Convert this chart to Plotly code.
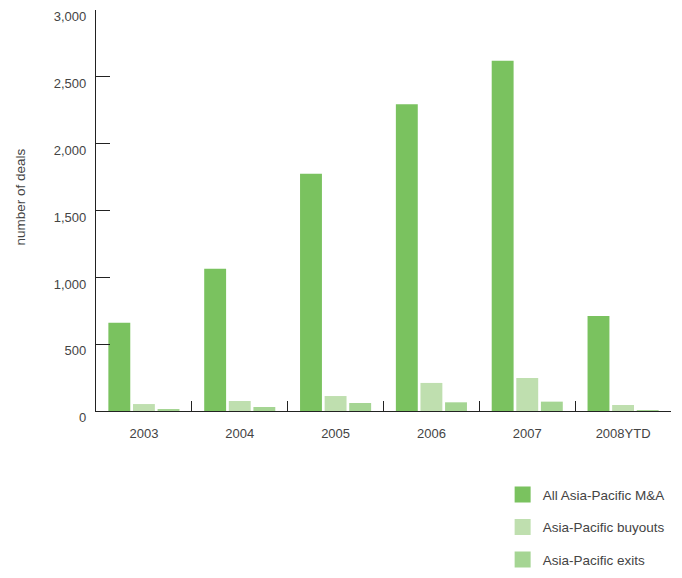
import plotly.graph_objects as go

years = ["2003", "2004", "2005", "2006", "2007", "2008YTD"]
all_ma = [660, 1065, 1775, 2295, 2620, 710]
buyouts = [52, 75, 112, 210, 247, 45]
exits = [12, 30, 60, 65, 70, 4]
series_names = ["All Asia-Pacific M&A", "Asia-Pacific buyouts", "Asia-Pacific exits"]
colors = ["#7AC25F", "#BFDFAF", "#A5D593"]
y_ticks = [0, 500, 1000, 1500, 2000, 2500, 3000]
y_tick_text = ["0", "500", "1,000", "1,500", "2,000", "2,500", "3,000"]

fig = go.Figure()
for i, (name, vals) in enumerate(zip(series_names, [all_ma, buyouts, exits])):
    fig.add_trace(go.Bar(x=years, y=vals, name=name, marker_color=colors[i],
                         marker_line_width=0, showlegend=False))
# legend entries with larger square swatches
for i, name in enumerate(series_names):
    fig.add_trace(go.Scatter(x=[None], y=[None], mode="markers", name=name,
                             marker=dict(symbol="square", size=18, color=colors[i]),
                             legendgroup=f"g{i}", showlegend=True))

font_family = "Liberation Sans, Arial, sans-serif"
fig.update_layout(
    width=682, height=578,
    margin=dict(l=96, r=11, t=10, b=167, autoexpand=False),
    paper_bgcolor="white", plot_bgcolor="white",
    barmode="group", bargap=0.23, bargroupgap=0.11,
    font=dict(family=font_family, size=13, color="#444"),
    showlegend=True,
    legend=dict(xref="container", yref="container", x=0.737, y=0.171,
                xanchor="left", yanchor="top",
                font=dict(size=13.5, color="#444"), tracegroupgap=12,
                bgcolor="rgba(0,0,0,0)"),
    xaxis=dict(showline=True, linecolor="#222", linewidth=1.2,
               ticks="inside", ticklen=10, tickcolor="#222", tickwidth=1.2,
               tickson="boundaries", showgrid=False, ticklabelstandoff=10,
               tickfont=dict(size=13, color="#444")),
    yaxis=dict(range=[0, 3000], tickvals=y_ticks, ticktext=y_tick_text,
               showline=True, linecolor="#222", linewidth=1.2,
               ticks="inside", ticklen=14, tickcolor="#222", tickwidth=1.2,
               showgrid=False, zeroline=False, ticklabelstandoff=6,
               ticklabelposition="outside bottom", ticklabelshift=-3,
               tickfont=dict(size=13, color="#444")),
    annotations=[dict(text="number of deals", xref="paper", yref="paper",
                      x=-0.131, y=0.534, textangle=-90, showarrow=False,
                      font=dict(size=13.5, color="#444"), xanchor="center", yanchor="middle")],
)

fig.write_html("out.html")
